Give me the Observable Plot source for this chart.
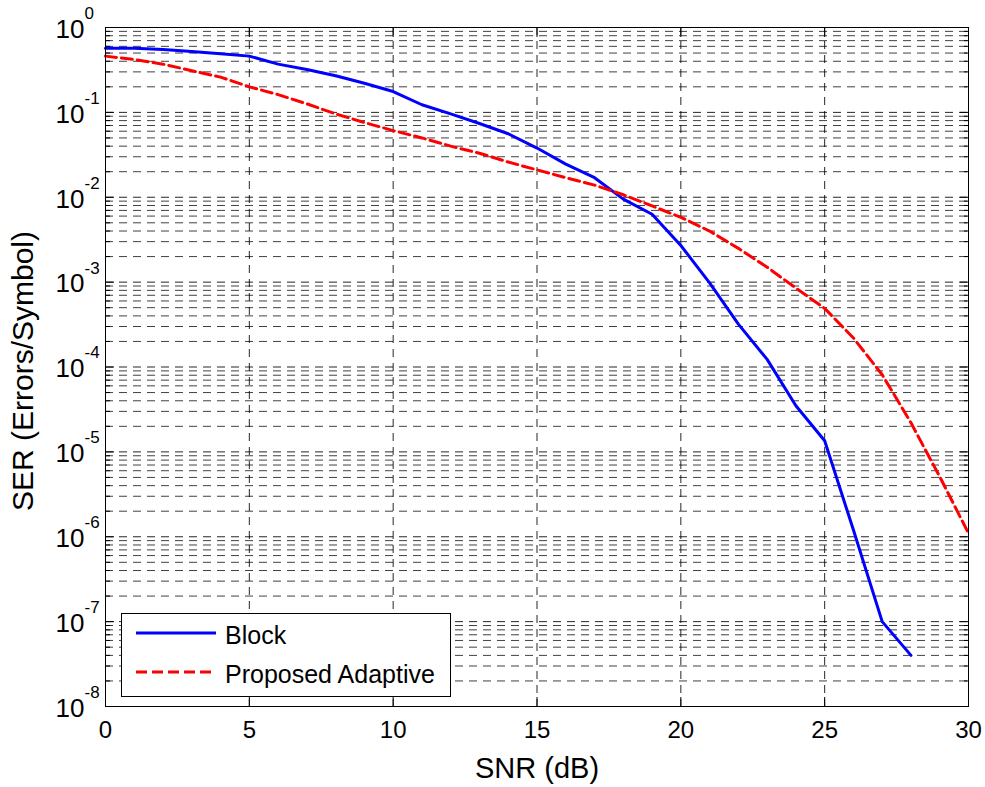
<!DOCTYPE html>
<html>
<head>
<meta charset="utf-8">
<script src="https://cdn.jsdelivr.net/npm/d3@7"></script>
<script src="https://cdn.jsdelivr.net/npm/@observablehq/plot@0.6"></script>
<style>
  html, body { margin: 0; padding: 0; background: #fff; }
  #chart { position: relative; width: 985px; height: 787px; font-family: "Liberation Sans", Arial, sans-serif; }
  #legend { position: absolute; left: 121px; top: 613px; }
</style>
</head>
<body>
<div id="chart"></div>
<script>
// ---- data ----
const snrBlock = [0,1,2,3,4,5,6,7,8,9,10,11,12,13,14,15,16,17,18,19,20,21,22,23,24,25,26,27,28];
const serBlock = [0.57,0.57,0.55,0.52,0.49,0.46,0.37,0.32,0.27,0.22,0.176,0.123,0.096,0.074,0.056,0.038,0.0246,0.017,0.0095,0.0063,0.0027,0.00098,0.00032,0.000123,0.000035,0.0000135,0.0000012,0.0000001,0.00000004];
const snrAdaptive = [0,1,2,3,4,5,6,7,8,9,10,11,12,13,14,15,16,17,18,19,20,21,22,23,24,25,26,27,28,29,30];
const serAdaptive = [0.46,0.42,0.37,0.31,0.26,0.20,0.162,0.126,0.096,0.076,0.061,0.05,0.04,0.033,0.026,0.021,0.017,0.0139,0.0107,0.0079,0.0058,0.0040,0.0025,0.0015,0.00085,0.00049,0.00022,0.000081,0.000022,0.0000051,0.0000011];
const seriesNames = ["Block", "Proposed Adaptive"];
const seriesColors = ["#0000ff", "#ff0000"];
const xTicks = [0,5,10,15,20,25,30];
const yDecades = [1,1e-1,1e-2,1e-3,1e-4,1e-5,1e-6,1e-7,1e-8];
const yExponents = ["0","-1","-2","-3","-4","-5","-6","-7","-8"];
const minorMultipliers = [2,3,4,5,6,7,8,9];
const xTitle = "SNR (dB)";
const yTitle = "SER (Errors/Symbol)";

const blockData = snrBlock.map((x, i) => ({x, y: serBlock[i]}));
const adaptiveData = snrAdaptive.map((x, i) => ({x, y: serAdaptive[i]}));
const yMinor = yDecades.slice(1).flatMap(d => minorMultipliers.map(m => d * m));
const decadeLabels = yDecades.map((d, i) => ({y: d, e: yExponents[i]}));

const gridDash = "8,6";
const font = "'Liberation Sans', Arial, sans-serif";

const plot = Plot.plot({
  width: 985,
  height: 787,
  marginLeft: 105,
  marginRight: 17,
  marginTop: 27,
  marginBottom: 81,
  style: {fontFamily: font, fontSize: "24px", background: "#fff", color: "#000"},
  x: {domain: [0, 30]},
  y: {type: "log", domain: [1e-8, 1]},
  marks: [
    // grid
    Plot.ruleY(yMinor, {stroke: "#000", strokeOpacity: 0.75, strokeDasharray: gridDash}),
    Plot.ruleY(yDecades.slice(1, -1), {stroke: "#000", strokeOpacity: 0.85, strokeDasharray: gridDash}),
    Plot.ruleX(xTicks.slice(1, -1), {stroke: "#000", strokeOpacity: 0.85, strokeDasharray: gridDash}),
    // inward ticks + x tick labels
    Plot.axisX({anchor: "bottom", ticks: xTicks, tickSize: -9, tickPadding: 23, fontSize: 24, label: null}),
    Plot.axisX({anchor: "top", ticks: xTicks, tickSize: -9, tickFormat: () => "", label: null}),
    Plot.axisY({anchor: "left", ticks: yDecades, tickSize: -9, tickFormat: () => "", label: null}),
    Plot.axisY({anchor: "right", ticks: yDecades, tickSize: -9, tickFormat: () => "", label: null}),
    Plot.axisY({anchor: "left", ticks: yMinor, tickSize: -5, tickFormat: () => "", label: null}),
    Plot.axisY({anchor: "right", ticks: yMinor, tickSize: -5, tickFormat: () => "", label: null}),
    // y tick labels 10^n
    Plot.text(decadeLabels, {y: "y", text: () => "10", frameAnchor: "left", textAnchor: "end", dx: -21, dy: 2, fontSize: 26}),
    Plot.text(decadeLabels, {y: "y", text: "e", frameAnchor: "left", textAnchor: "start", dx: -21, dy: -14, fontSize: 17}),
    // axis titles
    Plot.text([yTitle], {x: null, y: null, text: d => d, frameAnchor: "left", textAnchor: "middle", lineAnchor: "middle", rotate: -90, dx: -82, dy: 4, fontSize: 30}),
    Plot.text([xTitle], {x: null, y: null, text: d => d, frameAnchor: "bottom", textAnchor: "middle", lineAnchor: "middle", dy: 62, fontSize: 29}),
    // data
    Plot.line(blockData, {x: "x", y: "y", stroke: seriesColors[0], strokeWidth: 3}),
    Plot.line(adaptiveData, {x: "x", y: "y", stroke: seriesColors[1], strokeWidth: 3, strokeDasharray: "11,5"}),
    Plot.frame({stroke: "#000", strokeWidth: 1})
  ]
});
document.getElementById("chart").appendChild(plot);

// legend box (inside the axes, lower left)
const lg = d3.select("#chart").append("svg")
  .attr("id", "legend").attr("width", 331).attr("height", 85)
  .style("font-family", font);
lg.append("rect").attr("x", 0.5).attr("y", 0.5).attr("width", 329).attr("height", 83)
  .attr("fill", "#fff").attr("stroke", "#000");
seriesNames.forEach((name, i) => {
  const cy = 20 + i * 39;
  lg.append("line").attr("x1", 15).attr("x2", 95).attr("y1", cy).attr("y2", cy)
    .attr("stroke", seriesColors[i]).attr("stroke-width", 3)
    .attr("stroke-dasharray", i === 1 ? "11,5" : null);
  lg.append("text").attr("x", 104).attr("y", cy + 11).attr("font-size", 25).text(name);
});
</script>
</body>
</html>
